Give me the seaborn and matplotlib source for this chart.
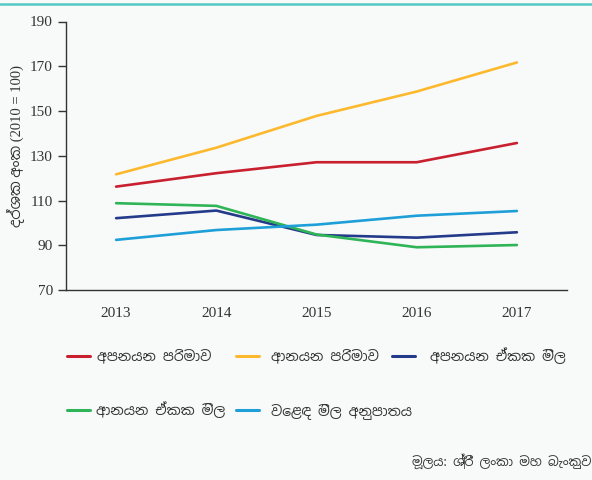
import matplotlib
matplotlib.use("Agg")
import matplotlib.pyplot as plt
from matplotlib import font_manager as fm
import seaborn as sns
import pandas as pd
from matplotlib.lines import Line2D

years = ["2013", "2014", "2015", "2016", "2017"]
series_names = ["අපනයන පරිමාව", "ආනයන පරිමාව", "අපනයන ඒකක මිල",
                "ආනයන ඒකක මිල", "වෙළඳ මිල අනුපාතය"]
export_volume = [116.2, 122.2, 127.1, 127.1, 135.7]
import_volume = [121.7, 133.6, 147.8, 158.7, 171.7]
export_unit_price = [102.1, 105.5, 94.6, 93.4, 95.8]
import_unit_price = [108.8, 107.6, 94.8, 89.1, 90.1]
terms_of_trade = [92.4, 96.8, 99.2, 103.2, 105.3]
y_ticks = [70, 90, 110, 130, 150, 170, 190]
y_label = "දර්ශක අංක (2010 = 100)"
source = "මූලය: ශ්‍රී ලංකා මහ බැංකුව"
colors = ["#c8202f", "#fdb92d", "#243a8a", "#2fb457", "#1f9fd7"]

# locate an installed Sinhala font
sinhala_family = None
paths = fm.findSystemFonts()
prefs = ["NotoSansSinhala[", "NotoSansSinhalaUI", "NotoSansSinhala", "YaldeviColombo-Regular",
         "HindColombo-Regular", "NotoSerifSinhala"]
for p in prefs:
    for f in paths:
        if p in f:
            try:
                fm.fontManager.addfont(f)
                sinhala_family = fm.FontProperties(fname=f).get_name()
                break
            except Exception:
                pass
    if sinhala_family:
        break
if sinhala_family is None:
    sinhala_family = "DejaVu Sans"

values = [export_volume, import_volume, export_unit_price, import_unit_price, terms_of_trade]
rows = []
for name, vals in zip(series_names, values):
    for i, (yr, v) in enumerate(zip(years, vals)):
        rows.append({"x": i, "year": yr, "value": v, "series": name})
df = pd.DataFrame(rows)

sns.set_theme(style="white")
plt.rcParams['font.family'] = ['Liberation Serif', sinhala_family, 'DejaVu Sans']
bg = "#f8fafa"
W, H = 592, 480
fig = plt.figure(figsize=(5.92, 4.8), dpi=100, facecolor=bg)
ax = fig.add_axes([66/W, 1-290/H, (567-66)/W, (290-21.5)/H])
ax.set_facecolor(bg)

sns.lineplot(data=df, x="x", y="value", hue="series", hue_order=series_names,
             palette=colors, linewidth=1.9, ax=ax, legend=False)

ax.set_xlim(-0.5, 4.5)
ax.set_ylim(70, 190)
ax.set_yticks(y_ticks)
ax.set_yticklabels([str(t) for t in y_ticks], fontsize=11, color="#333333")
ax.set_xticks([-0.5, 0.5, 1.5, 2.5, 3.5, 4.5])
ax.set_xticklabels([])
ax.set_xticks(range(len(years)), minor=True)
ax.set_xticklabels(years, minor=True, fontsize=11, color="#333333")
ax.tick_params(axis="x", which="major", direction="out", length=9, width=1, color="#333333")
ax.tick_params(axis="x", which="minor", length=0, pad=12)
ax.tick_params(axis="y", direction="out", length=6, width=1, color="#333333", left=True)
for s in ["top", "right"]:
    ax.spines[s].set_visible(False)
for s in ["left", "bottom"]:
    ax.spines[s].set_color("#333333")
    ax.spines[s].set_linewidth(1.0)
ax.set_xlabel("")
ax.set_ylabel(y_label, fontsize=10.5, color="#333333",
              family=['Liberation Serif', sinhala_family, 'DejaVu Sans'])
ax.yaxis.set_label_coords(-41/501, 0.535)

# top teal rule
fig.add_artist(Line2D([0, 1], [1-3.5/H, 1-3.5/H], color="#55c8c6", linewidth=1.8,
                      transform=fig.transFigure))

# legend entries placed individually like the reference
entry_pos = [(67, 357), (236, 357), (392, 357), (67, 411), (236, 411)]
text_pads = [0.5, 0.85, 1.1, 0.45, 0.85]
for i, (px, py) in enumerate(entry_pos):
    h = Line2D([], [], color=colors[i], linewidth=2.2)
    leg = fig.legend([h], [series_names[i]], loc="center left",
                     bbox_to_anchor=(px/W, 1-py/H), frameon=False,
                     handlelength=1.65, handletextpad=text_pads[i], borderpad=0,
                     borderaxespad=0,
                     prop={"family": [sinhala_family, 'DejaVu Sans'], "size": 10})
    for t in leg.get_texts():
        t.set_color("#333333")

fig.text(591/W, 1-461/H, source, ha="right", va="center", fontsize=9,
         color="#333333", family=[sinhala_family, 'DejaVu Sans'])

fig.savefig("out.png", dpi=100, facecolor=bg)
